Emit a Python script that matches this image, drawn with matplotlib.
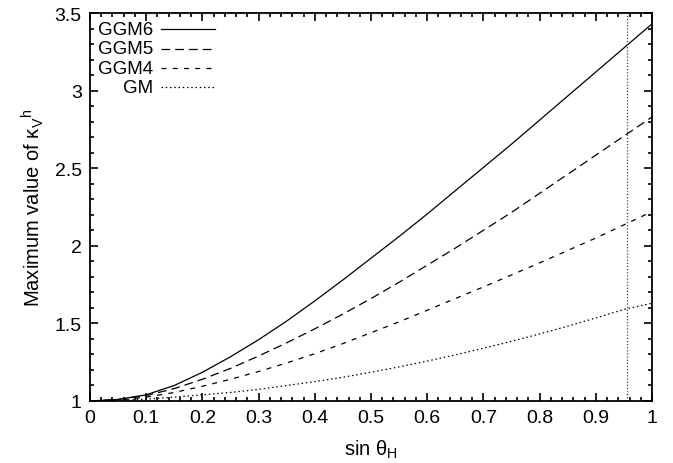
import numpy as np
import matplotlib
matplotlib.use('Agg')
import matplotlib.pyplot as plt
from matplotlib.ticker import MultipleLocator

# values (sin theta_H vs max kappa)
sin_theta = [0.0, 0.05, 0.1, 0.15, 0.2, 0.25, 0.3, 0.35, 0.4, 0.45, 0.5,
             0.55, 0.6, 0.65, 0.7, 0.75, 0.8, 0.85, 0.9, 0.95, 1.0]
ggm6 = [1.00, 1.01, 1.04, 1.10, 1.185, 1.285, 1.395, 1.515, 1.645, 1.78, 1.92,
        2.06, 2.205, 2.355, 2.505, 2.655, 2.81, 2.965, 3.12, 3.275, 3.43]
ggm5 = [1.00, 1.01, 1.035, 1.08, 1.14, 1.21, 1.29, 1.375, 1.465, 1.56, 1.66,
        1.765, 1.875, 1.985, 2.10, 2.215, 2.338, 2.461, 2.584, 2.707, 2.83]
ggm4 = [1.00, 1.005, 1.025, 1.055, 1.095, 1.14, 1.19, 1.245, 1.305, 1.37, 1.44,
        1.51, 1.585, 1.66, 1.735, 1.812, 1.89, 1.97, 2.05, 2.135, 2.22]
gm = [1.00, 1.003, 1.012, 1.025, 1.04, 1.055, 1.075, 1.10, 1.125, 1.153, 1.185,
      1.22, 1.257, 1.297, 1.34, 1.385, 1.432, 1.482, 1.535, 1.59, 1.63]
labels = ['GGM6', 'GGM5', 'GGM4', 'GM']
styles = ['-', (0, (7, 4)), (0, (4, 5)), (0, (1.2, 2.2))]
sin_cut = 0.955  # vertical dotted line
xticks = [0, 0.1, 0.2, 0.3, 0.4, 0.5, 0.6, 0.7, 0.8, 0.9, 1.0]
xtick_labels = ['0', '0.1', '0.2', '0.3', '0.4', '0.5', '0.6', '0.7', '0.8', '0.9', '1']
yticks = [1, 1.5, 2, 2.5, 3, 3.5]
ytick_labels = ['1', '1.5', '2', '2.5', '3', '3.5']

plt.rcParams['font.family'] = ['Liberation Sans', 'DejaVu Sans']
plt.rcParams['mathtext.fontset'] = 'custom'
plt.rcParams['mathtext.rm'] = 'Liberation Sans'
plt.rcParams['mathtext.it'] = 'Liberation Sans:italic'

fig = plt.figure(figsize=(6.73, 4.64), dpi=100)
ax = fig.add_axes([90/673, 1 - 402/464, 562/673, 388/464])

series = [ggm6, ggm5, ggm4, gm]
for vals, ls in zip(series, styles):
    ax.plot(sin_theta, vals, color='black', lw=0.9, ls=ls)

ax.axvline(sin_cut, color='#444444', lw=0.9, ls=(0, (1, 1.5)))

# gnuplot-like legend: text right aligned, sample after it
for i, (lab, ls) in enumerate(zip(labels, styles)):
    yy = 0.958 - i * 0.05
    ax.text(0.112, yy, lab, transform=ax.transAxes, ha='right', va='center', fontsize=13.5)
    ax.plot([0.127, 0.222], [yy, yy], transform=ax.transAxes, color='black', lw=0.9, ls=ls)

ax.set_xlim(0, 1)
ax.set_ylim(1, 3.5)
ax.set_xticks(xticks)
ax.set_xticklabels(xtick_labels)
ax.set_yticks(yticks)
ax.set_yticklabels(ytick_labels)
ax.xaxis.set_minor_locator(MultipleLocator(0.02))
ax.yaxis.set_minor_locator(MultipleLocator(0.1))
ax.tick_params(which='both', direction='in', top=True, right=True, labelsize=14, width=1.2)
ax.tick_params(which='major', length=6, pad=6)
ax.tick_params(which='minor', length=3)
for s in ax.spines.values():
    s.set_linewidth(1.3)

ax.set_xlabel(r'sin θ$_{\mathrm{H}}$', fontsize=14.5, labelpad=8)
ax.set_ylabel(r'Maximum value of κ$_{\mathrm{V}}{}^{\mathrm{h}}$', fontsize=14.5, labelpad=6)

fig.savefig('out.png', dpi=100)
